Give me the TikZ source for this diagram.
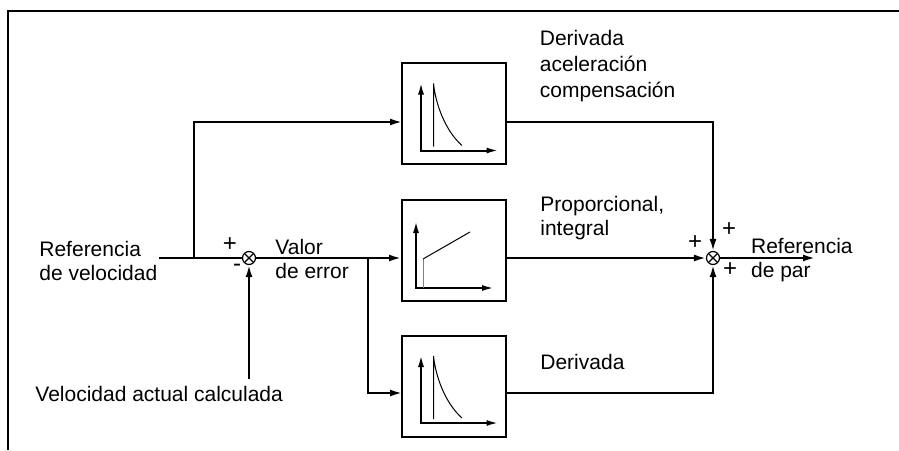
\documentclass[tikz,border=0pt]{standalone}
\usepackage{fontspec}
\setmainfont{Liberation Sans}
\usetikzlibrary{arrows.meta,positioning,calc}
\tikzset{
  blockbox/.style={draw, line width=1pt, minimum width=52pt, minimum height=50.5pt, inner sep=0pt},
  sumnode/.style={draw, circle, line width=0.6pt, minimum size=6.5pt, inner sep=0pt,
    path picture={\draw[line width=0.6pt]
      (path picture bounding box.north west) -- (path picture bounding box.south east)
      (path picture bounding box.north east) -- (path picture bounding box.south west);}},
  lbl/.style={anchor=base west, align=left, inner sep=0pt, font=\fontsize{10.5}{12}\selectfont},
  sgn/.style={inner sep=0pt, font=\fontsize{12}{12}\selectfont},
  wire/.style={line width=1pt},
  flow/.style={line width=1pt, -{Latex[length=6pt,width=3.5pt]}},
  axes/.style={line width=1pt, {Latex[length=6pt,width=3pt]}-{Latex[length=6pt,width=3pt]}},
  decay/.pic={
    \draw[axes] (-33,-31) -- (-33,37) -- (44.5,37);
    \draw[line width=0.5pt] (-20.5,33) -- (-20.5,-30) .. controls (-18.5,-10) and (-9,17) .. (8,32);
  },
  ramp/.pic={
    \draw[axes] (-38,-29) -- (-38,38) -- (40,38);
    \draw[line width=0.5pt, gray] (-31,38) -- (-31,9);
    \draw[line width=0.5pt] (-31,9) -- (16,-18);
  }
}

\begin{document}
\begin{tikzpicture}[x=0.5pt, y=-0.5pt]
    \useasboundingbox (0,0) rectangle (899,450);
    % frame
    \draw[line width=0.6pt] (899,11) -- (8,11) -- (8,450);

    % blocks
    \node[blockbox] (acc) at (454,113.5) {};
    \pic at (acc.center) {decay};
    \node[blockbox] (pid) at (454,250) {};
    \pic at (pid.center) {ramp};
    \node[blockbox] (der) at (454,386) {};
    \pic at (der.center) {decay};

    % summing points
    \node[sumnode] (sumA) at (249,258) {};
    \node[sumnode] (sumB) at (713,258) {};

    \coordinate (refin) at (159,258);
    \coordinate (splitA) at (194,258);
    \coordinate (splitB) at (368,258);
    \coordinate (velin) at (249,379);
    \coordinate (accin) at (402,122);
    \coordinate (derin) at (402,393);
    \coordinate (refout) at (815,258);

    % connectors
    \draw[wire] (refin) -- (sumA);
    \draw[flow] (splitA) |- (accin);
    \draw[flow] (velin) -- (sumA);
    \draw[flow] (sumA) -- (sumA -| pid.west);
    \draw[flow] (splitB) |- (derin);
    \draw[flow] (accin -| acc.east) -| (sumB);
    \draw[flow] (sumA -| pid.east) -- (sumB);
    \draw[flow] (derin -| der.east) -| (sumB);
    \draw[flow] (sumB) -- (refout);

    % signs
    \node[sgn] (plusA) at (230,245) {+};
    \node[sgn] (minusA) at (237,268) {-};
    \node[sgn] (plusBt) at (729,230) {+};
    \node[sgn] (plusBl) at (695,243) {+};
    \node[sgn] (plusBb) at (730,270) {+};

    % labels (base = last line)
    \node[lbl] (refvel) at (39,280) {Referencia\\de velocidad};
    \node[lbl] (errval) at (275,278.5) {Valor\\de error};
    \node[lbl] (velact) at (35,401.7) {Velocidad actual calculada};
    \node[lbl] (acclbl) at (539.5,97.5) {Derivada\\[1.1pt]aceleración\\[1.1pt]compensación};
    \node[lbl] (pilbl) at (540,235.7) {Proporcional,\\integral};
    \node[lbl] (derlbl) at (540,369.3) {Derivada};
    \node[lbl] (refpar) at (750.7,277.3) {Referencia\\de par};
  \end{tikzpicture}
\end{document}
